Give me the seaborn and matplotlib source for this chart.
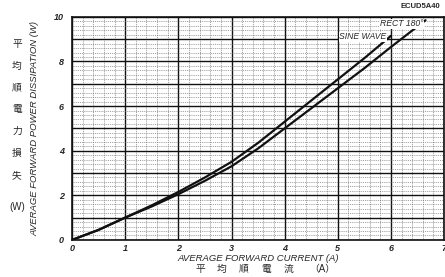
import numpy as np
import pandas as pd
import matplotlib
matplotlib.use("Agg")
import matplotlib.pyplot as plt
import seaborn as sns
from matplotlib.ticker import MultipleLocator

# Values
sine_current = [0, 0.5, 1, 1.5, 2, 2.5, 3, 3.5, 4, 4.5, 5, 5.5, 6]
sine_power = [0, 0.45, 1.0, 1.55, 2.15, 2.8, 3.5, 4.35, 5.3, 6.25, 7.2, 8.15, 9.15]
rect_current = [0, 0.5, 1, 1.5, 2, 2.5, 3, 3.5, 4, 4.5, 5, 5.5, 6, 6.65]
rect_power = [0, 0.45, 1.0, 1.5, 2.05, 2.65, 3.3, 4.1, 5.0, 5.9, 6.8, 7.7, 8.65, 9.85]

x_ticks = [0, 1, 2, 3, 4, 5, 6, 7]
y_labels = ["0", "", "2", "", "4", "", "6", "", "8", "", "10"]

df = pd.concat([
    pd.DataFrame({"current": sine_current, "power": sine_power, "wave": "SINE WAVE"}),
    pd.DataFrame({"current": rect_current, "power": rect_power, "wave": "RECT 180°"}),
])

sns.set_style("white")
plt.rcParams["font.family"] = ["Liberation Sans", "Noto Sans CJK JP", "DejaVu Sans"]

fig = plt.figure(figsize=(4.45, 2.77), dpi=100)
ax = fig.add_axes([0.162, 0.134, 0.836, 0.805])

sns.lineplot(data=df, x="current", y="power", hue="wave",
             palette={"SINE WAVE": "#111111", "RECT 180°": "#111111"},
             linewidth=1.6, legend=False, sort=False, estimator=None, ax=ax)

ax.set_xlim(0, 7)
ax.set_ylim(0, 10)
ax.xaxis.set_minor_locator(MultipleLocator(0.2))
ax.yaxis.set_minor_locator(MultipleLocator(0.2))
ax.set_xticks(x_ticks)
ax.set_yticks(np.arange(0, 10.01, 1))
ax.grid(which="major", color="#111111", linewidth=1.0)
ax.grid(which="minor", color="#666666", linewidth=0.45, linestyle=(0, (1.5, 1.5)))
ax.set_axisbelow(True)
for s in ax.spines.values():
    s.set_color("#111111")
    s.set_linewidth(1.2)

ax.set_xticklabels([str(v) for v in x_ticks], fontsize=6.5, style="italic", fontweight="bold")
ax.set_yticklabels(y_labels, fontsize=6.5, style="italic", fontweight="bold")
ax.tick_params(axis="x", which="both", length=0, pad=3)
ax.tick_params(axis="y", which="both", length=0, pad=6)

ax.set_xlabel("AVERAGE FORWARD CURRENT (A)", fontsize=6.8, style="italic", labelpad=1)
ax.set_ylabel("AVERAGE FORWARD POWER DISSIPATION (W)", fontsize=6.8, style="italic", labelpad=10)

# bottom Japanese label, spread out like the original sheet
jp_x = ["平", "均", "順", "電", "流", "（A）"]
jp_x_pos = [200, 222, 244, 266, 288, 322]
for ch, px in zip(jp_x, jp_x_pos):
    fig.text(px / 445, 0.03, ch, fontsize=7, ha="center", va="center")

jp_chars = ["平", "均", "順", "電", "力", "損", "失"]
for i, ch in enumerate(jp_chars):
    fig.text(0.038, 1 - (44 + i * 21.8) / 277, ch, fontsize=7, ha="center", va="center")
fig.text(0.038, 1 - 207 / 277, "(W)", fontsize=7, ha="center", va="center")

fig.text(0.99, 0.975, "ECUD5A40", fontsize=5.5, fontweight="bold", ha="right", va="center")

ax.text(6.62, 9.7, "RECT 180°", fontsize=6.2, style="italic", ha="right", va="center",
        bbox=dict(facecolor="white", edgecolor="none", pad=0.3))
ax.text(5.92, 9.1, "SINE WAVE", fontsize=6.2, style="italic", ha="right", va="center",
        bbox=dict(facecolor="white", edgecolor="none", pad=0.3))

fig.savefig("out.png", dpi=100)
